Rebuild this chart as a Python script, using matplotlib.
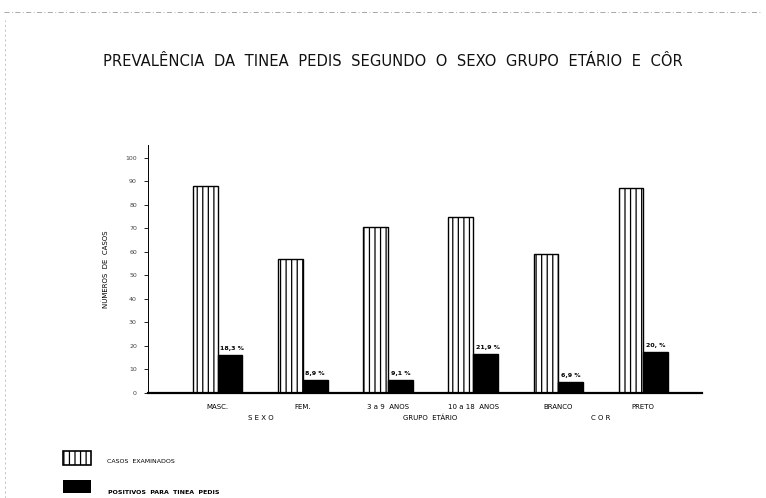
import numpy as np
import matplotlib.pyplot as plt

plt.rcParams['hatch.linewidth'] = 0.9

# data
categorias = ['MASC.', 'FEM.', '3 a 9  ANOS', '10 a 18  ANOS', 'BRANCO', 'PRETO']
casos_examinados = [88, 57, 70.5, 75, 59, 87]
positivos = [16.2, 5.5, 5.5, 16.6, 4.7, 17.4]
percentuais = ['18,3 %', '8,9 %', '9,1 %', '21,9 %', '6,9 %', '20, %']
grupos = ['S E X O', 'GRUPO  ETÁRIO', 'C O R']
y_ticks = [0, 10, 20, 30, 40, 50, 60, 70, 80, 90, 100]

W, H = 766, 498
fig = plt.figure(figsize=(W / 100, H / 100), dpi=100)

# axes placed in pixel coordinates of the reference
left, right, top, bottom = 148, 702, 145, 393
ax = fig.add_axes([left / W, 1 - bottom / H, (right - left) / W, (bottom - top) / H])

x = np.arange(len(categorias))
w = 0.29
ax.bar(x - w / 2, casos_examinados, width=w, color='white', edgecolor='black',
       hatch='|||', linewidth=1.0)
ax.bar(x + w / 2, positivos, width=w, color='black', edgecolor='black')

for xi, v, p in zip(x, positivos, percentuais):
    ax.text(xi + 0.03, v + 1.8, p, fontsize=4.5, fontweight='bold', ha='left', va='bottom')

ax.set_xlim(-0.82, 5.69)
ax.set_ylim(0, 105.5)
ax.set_yticks(y_ticks)
ax.set_yticklabels([str(t) for t in y_ticks], fontsize=4.5, color='#444444')
ax.tick_params(axis='y', length=3, width=0.6, pad=5)
ax.set_xticks(x)
ax.set_xticklabels(categorias, fontsize=5)
ax.tick_params(axis='x', length=0, pad=8)

ax.spines['top'].set_visible(False)
ax.spines['right'].set_visible(False)
ax.spines['left'].set_linewidth(0.7)
ax.spines['left'].set_linestyle((0, (4, 1)))
ax.spines['bottom'].set_linewidth(1.6)

ax.set_ylabel('NÚMEROS  DE  CASOS', fontsize=5, labelpad=12)

# group labels under the category labels
for gx, g in zip([0.5, 2.5, 4.5], grupos):
    ax.text(gx, -10.5, g, fontsize=5, ha='center', va='center')

fig.text(103 / W, 1 - 62 / H, 'PREVALÊNCIA  DA  TINEA  PEDIS  SEGUNDO  O  SEXO  GRUPO  ETÁRIO  E  CÔR',
         fontsize=10.6, ha='left', va='center', color='#111111')

# legend drawn as boxes
lg1 = fig.add_axes([63 / W, 1 - 465 / H, 28 / W, 14 / H])
lg1.bar([0], [1], width=1, color='white', edgecolor='black', hatch='|||', linewidth=1.2,
        clip_on=False)
lg1.set_xlim(-0.5, 0.5)
lg1.set_ylim(0, 1)
lg1.axis('off')
lg2 = fig.add_axes([63 / W, 1 - 493 / H, 28 / W, 13 / H])
lg2.bar([0], [1], width=1, color='black', clip_on=False)
lg2.set_xlim(-0.5, 0.5)
lg2.set_ylim(0, 1)
lg2.axis('off')
fig.text(107 / W, 1 - 461 / H, 'CASOS  EXAMINADOS', fontsize=4.5, va='center')
fig.text(108 / W, 1 - 492 / H, 'POSITIVOS  PARA  TINEA  PEDIS', fontsize=4.5, va='center', fontweight='bold')

# faint scan border lines
fig.add_artist(plt.Line2D([0.005, 0.995], [1 - 12 / H, 1 - 12 / H], color='#999999',
                          linewidth=0.6, linestyle=(0, (6, 3, 1, 3))))
fig.add_artist(plt.Line2D([5 / W, 5 / W], [0.0, 1 - 20 / H], color='#aaaaaa',
                          linewidth=0.5, linestyle=(0, (3, 4))))

fig.savefig('out.png', dpi=100)
